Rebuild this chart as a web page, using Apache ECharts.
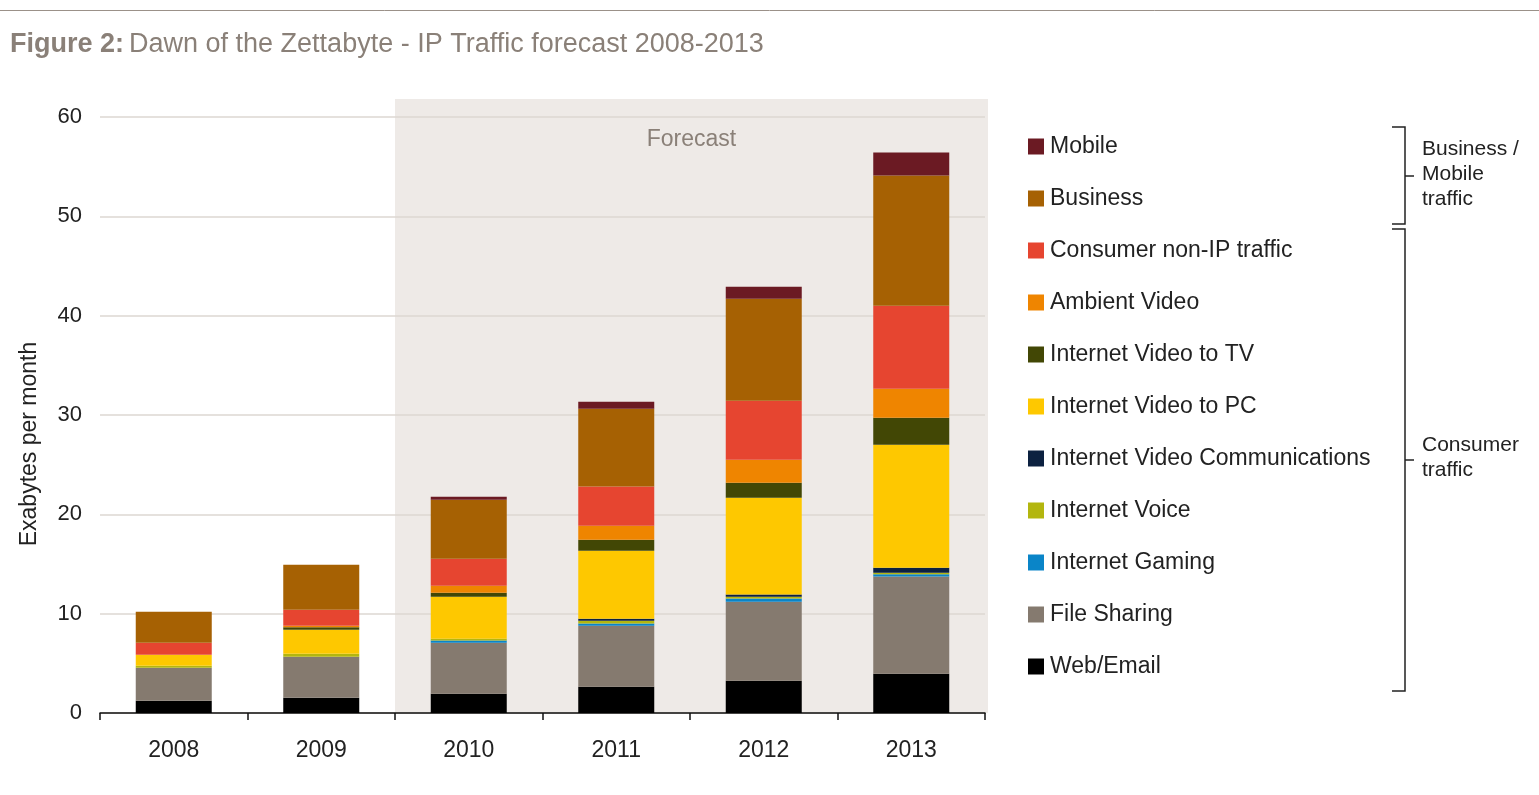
<!DOCTYPE html>
<html>
<head>
<meta charset="utf-8">
<title>IP Traffic forecast 2008-2013</title>
<script src="https://cdn.jsdelivr.net/npm/echarts@6/dist/echarts.min.js"></script>
<style>
  html, body { margin: 0; padding: 0; background: #ffffff; }
  #chart { width: 1539px; height: 795px; }
</style>
</head>
<body>
<div id="chart"></div>
<script>
// Years on the category axis
const years = ['2008', '2009', '2010', '2011', '2012', '2013'];
const yTicks = [0, 10, 20, 30, 40, 50, 60];

// Exabytes per month, by traffic type (stacked bottom to top)
const webEmail     = [1.24, 1.54, 1.94, 2.65, 3.25, 3.96];
const fileSharing  = [3.32, 4.13, 5.13, 6.14, 7.95, 9.77];
const gaming       = [0, 0, 0.23, 0.23, 0.33, 0.23];
const voice        = [0.20, 0.30, 0.17, 0.27, 0.17, 0.17];
const videoComms   = [0, 0, 0, 0.20, 0.23, 0.50];
const videoToPC    = [1.11, 2.42, 4.23, 6.85, 9.74, 12.38];
const videoToTV    = [0, 0.23, 0.40, 1.11, 1.51, 2.72];
const ambientVideo = [0, 0.17, 0.70, 1.41, 2.32, 2.92];
const nonIP        = [1.21, 1.61, 2.72, 3.93, 5.94, 8.36];
const business     = [3.12, 4.53, 5.94, 7.85, 10.27, 13.09];
const mobile       = [0, 0, 0.30, 0.70, 1.21, 2.32];

const layers = [
  { name: 'Web/Email', data: webEmail, color: '#000000' },
  { name: 'File Sharing', data: fileSharing, color: '#857a6f' },
  { name: 'Internet Gaming', data: gaming, color: '#0a85c8' },
  { name: 'Internet Voice', data: voice, color: '#b3b60f' },
  { name: 'Internet Video Communications', data: videoComms, color: '#0c2140' },
  { name: 'Internet Video to PC', data: videoToPC, color: '#fec800' },
  { name: 'Internet Video to TV', data: videoToTV, color: '#424705' },
  { name: 'Ambient Video', data: ambientVideo, color: '#ef8500' },
  { name: 'Consumer non-IP traffic', data: nonIP, color: '#e64530' },
  { name: 'Business', data: business, color: '#a66103' },
  { name: 'Mobile', data: mobile, color: '#6b1a23' }
];

const FONT = '"Liberation Sans", Arial, Helvetica, sans-serif';
const INK = '#222222';
const MUTED = '#8a8078';

// plot area
const gridLeft = 100, gridRight = 985, gridTop = 117, gridBottom = 713;
const band = (gridRight - gridLeft) / years.length;
const shadeLeft = gridLeft + 2 * band, shadeRight = gridRight + 3, shadeTop = 99;

const chart = echarts.init(document.getElementById('chart'), null, { renderer: 'canvas' });

const option = {
  animation: false,
  backgroundColor: '#ffffff',
  textStyle: { fontFamily: FONT },
  title: {
    text: '{b|Figure 2:} {r|Dawn of the Zettabyte - IP Traffic forecast 2008-2013}',
    left: 10,
    top: 31,
    padding: 0,
    textStyle: {
      rich: {
        b: { fontFamily: FONT, fontSize: 27, fontWeight: 'bold', color: MUTED },
        r: { fontFamily: FONT, fontSize: 27, fontWeight: 'normal', color: MUTED }
      }
    }
  },
  grid: {
    left: gridLeft,
    right: 1539 - gridRight,
    top: gridTop,
    bottom: 795 - gridBottom,
    containLabel: false
  },
  legend: {
    orient: 'vertical',
    left: 1028,
    top: 135,
    padding: 0,
    itemGap: 29,
    itemWidth: 16,
    itemHeight: 16,
    icon: 'rect',
    selectedMode: false,
    data: layers.map(l => l.name).reverse(),
    textStyle: { fontFamily: FONT, fontSize: 23, color: INK, lineHeight: 22, padding: [0, 0, 0, 1] }
  },
  xAxis: {
    type: 'category',
    data: years,
    axisLine: { lineStyle: { color: '#111111', width: 1.5 } },
    axisTick: { show: true, length: 7, lineStyle: { color: '#111111', width: 1.5 } },
    axisLabel: { fontFamily: FONT, fontSize: 23, color: INK, margin: 26 }
  },
  yAxis: {
    type: 'value',
    min: yTicks[0],
    max: yTicks[yTicks.length - 1],
    interval: yTicks[1] - yTicks[0],
    axisLine: { show: false },
    axisTick: { show: false },
    axisLabel: { fontFamily: FONT, fontSize: 22, color: INK, margin: 18 },
    splitLine: { lineStyle: { color: '#dcd7d2', width: 1.5 } }
  },
  graphic: [
    // rule across the top of the figure
    { type: 'line', z: 0, shape: { x1: 0, y1: 10.5, x2: 1539, y2: 10.5 },
      style: { stroke: '#9b9189', lineWidth: 1 } },
    // shaded forecast period (2010 onwards)
    { type: 'rect', z: -10, silent: true,
      shape: { x: shadeLeft, y: shadeTop, width: shadeRight - shadeLeft, height: gridBottom - shadeTop },
      style: { fill: '#eeeae7' } },
    { type: 'text', z: 1, x: (shadeLeft + shadeRight) / 2, y: 140,
      style: { text: 'Forecast', fill: MUTED, font: '23px ' + FONT, textAlign: 'center', textVerticalAlign: 'middle' } },
    // y axis title
    { type: 'text', x: 30, y: 444, rotation: Math.PI / 2,
      style: { text: 'Exabytes per month', fill: INK, font: '23px ' + FONT, textAlign: 'center', textVerticalAlign: 'middle' } },
    // bracket: business / mobile
    { type: 'polyline', shape: { points: [[1392, 127], [1405, 127], [1405, 224], [1392, 224]] },
      style: { stroke: INK, lineWidth: 1.5, fill: null } },
    { type: 'line', shape: { x1: 1405, y1: 176, x2: 1414, y2: 176 }, style: { stroke: INK, lineWidth: 1.5 } },
    { type: 'text', x: 1422, y: 136.5,
      style: { text: 'Business /\nMobile\ntraffic', fill: INK, font: '21px ' + FONT, lineHeight: 25, textVerticalAlign: 'top' } },
    // bracket: consumer
    { type: 'polyline', shape: { points: [[1392, 229], [1405, 229], [1405, 691], [1392, 691]] },
      style: { stroke: INK, lineWidth: 1.5, fill: null } },
    { type: 'line', shape: { x1: 1405, y1: 460, x2: 1414, y2: 460 }, style: { stroke: INK, lineWidth: 1.5 } },
    { type: 'text', x: 1422, y: 432.5,
      style: { text: 'Consumer\ntraffic', fill: INK, font: '21px ' + FONT, lineHeight: 25, textVerticalAlign: 'top' } }
  ],
  series: layers.map(l => ({
    name: l.name,
    type: 'bar',
    stack: 'traffic',
    data: l.data,
    barWidth: 76,
    itemStyle: { color: l.color },
    emphasis: { disabled: true }
  }))
};

chart.setOption(option);
</script>
</body>
</html>
